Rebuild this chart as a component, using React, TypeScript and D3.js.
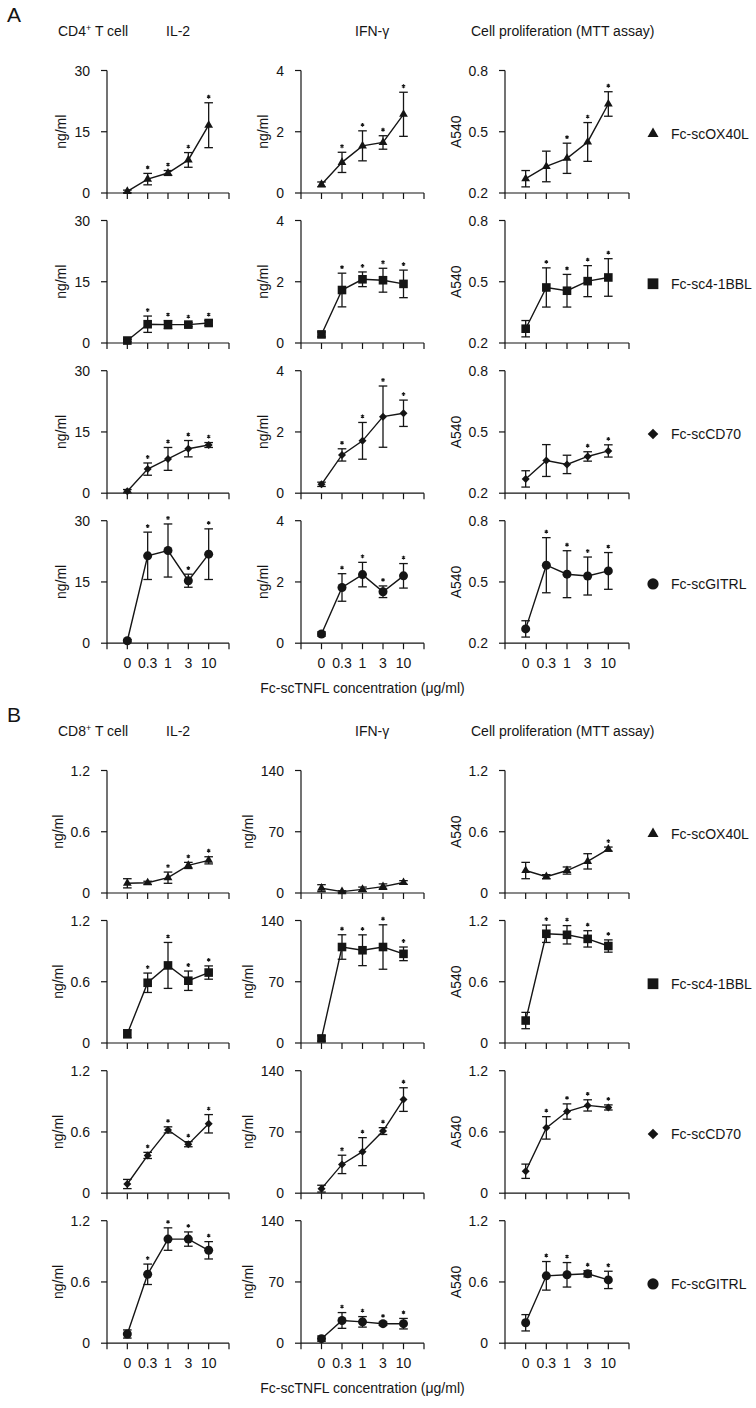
import React, { useEffect } from "react";
import * as d3 from "d3";

// ---------- data ----------
const concentrations = ["0", "0.3", "1", "3", "10"];
const ligands = ["Fc-scOX40L", "Fc-sc4-1BBL", "Fc-scCD70", "Fc-scGITRL"];
const markerShapes = ["triangle", "square", "diamond", "circle"];
const measureTitles = ["IL-2", "IFN-γ", "Cell proliferation (MTT assay)"];
const yLabels = ["ng/ml", "ng/ml", "A540"];
const xAxisTitle = "Fc-scTNFL concentration (μg/ml)";

// Panel A: CD4+ T cells
const cd4Domains = [[0, 30], [0, 4], [0.2, 0.8]];
const cd4Ticks = [[0, 15, 30], [0, 2, 4], [0.2, 0.5, 0.8]];
const cd4TickLabels = [["0", "15", "30"], ["0", "2", "4"], ["0.2", "0.5", "0.8"]];

const cd4Il2Mean = [
  [0.4, 3.4, 4.9, 8.1, 16.6],
  [0.6, 4.6, 4.5, 4.5, 4.9],
  [0.5, 5.9, 8.4, 10.9, 11.8],
  [0.6, 21.4, 22.7, 15.3, 21.8],
];
const cd4Il2Sd = [
  [0.3, 1.4, 0.6, 1.8, 5.5],
  [0.3, 2.0, 1.0, 0.5, 0.6],
  [0.4, 1.5, 2.8, 2.0, 0.6],
  [0.3, 5.8, 6.5, 1.6, 6.2],
];
const cd4Il2Star = [
  [0, 1, 1, 1, 1],
  [0, 1, 1, 1, 1],
  [0, 1, 1, 1, 1],
  [0, 1, 1, 1, 1],
];

const cd4IfnMean = [
  [0.28, 1.0, 1.54, 1.65, 2.57],
  [0.28, 1.73, 2.08, 2.05, 1.93],
  [0.29, 1.25, 1.71, 2.5, 2.61],
  [0.3, 1.82, 2.24, 1.68, 2.2],
];
const cd4IfnSd = [
  [0.08, 0.33, 0.49, 0.22, 0.72],
  [0.08, 0.55, 0.24, 0.39, 0.45],
  [0.07, 0.2, 0.6, 1.0, 0.43],
  [0.07, 0.45, 0.4, 0.19, 0.4],
];
const cd4IfnStar = [
  [0, 1, 1, 1, 1],
  [0, 1, 1, 1, 1],
  [0, 1, 1, 1, 1],
  [0, 1, 1, 1, 1],
];

const cd4MttMean = [
  [0.27, 0.33, 0.37, 0.45, 0.636],
  [0.27, 0.472, 0.456, 0.503, 0.521],
  [0.27, 0.36, 0.341, 0.38, 0.407],
  [0.27, 0.582, 0.538, 0.529, 0.554],
];
const cd4MttSd = [
  [0.04, 0.075, 0.074, 0.095, 0.06],
  [0.04, 0.096, 0.08, 0.076, 0.092],
  [0.04, 0.078, 0.045, 0.023, 0.03],
  [0.04, 0.135, 0.115, 0.093, 0.09],
];
const cd4MttStar = [
  [0, 0, 1, 1, 1],
  [0, 1, 1, 1, 1],
  [0, 0, 0, 1, 1],
  [0, 1, 1, 1, 1],
];

// Panel B: CD8+ T cells
const cd8Domains = [[0, 1.2], [0, 140], [0, 1.2]];
const cd8Ticks = [[0, 0.6, 1.2], [0, 70, 140], [0, 0.6, 1.2]];
const cd8TickLabels = [["0", "0.6", "1.2"], ["0", "70", "140"], ["0", "0.6", "1.2"]];

const cd8Il2Mean = [
  [0.095, 0.1, 0.15, 0.27, 0.32],
  [0.09, 0.59, 0.76, 0.61, 0.69],
  [0.09, 0.37, 0.62, 0.48, 0.68],
  [0.09, 0.675, 1.02, 1.02, 0.91],
];
const cd8Il2Sd = [
  [0.045, 0.015, 0.055, 0.03, 0.035],
  [0.04, 0.095, 0.225, 0.095, 0.065],
  [0.045, 0.03, 0.03, 0.025, 0.09],
  [0.04, 0.1, 0.11, 0.07, 0.085],
];
const cd8Il2Star = [
  [0, 0, 1, 1, 1],
  [0, 1, 1, 1, 1],
  [0, 1, 1, 1, 1],
  [0, 1, 1, 1, 1],
];

const cd8IfnMean = [
  [5.5, 1.6, 4.2, 7.3, 12],
  [5.2, 109.7, 106, 109.7, 101.9],
  [5.2, 32.9, 47.5, 71, 107],
  [5.2, 26, 24.4, 22.3, 22.3],
];
const cd8IfnSd = [
  [4, 1, 2.6, 3.1, 2.1],
  [3, 14, 17.6, 25.4, 7.8],
  [3.9, 10.5, 16, 3.9, 13.5],
  [3, 9, 6, 2, 6],
];
const cd8IfnStar = [
  [0, 0, 0, 0, 0],
  [0, 1, 1, 1, 1],
  [0, 1, 1, 1, 1],
  [0, 1, 1, 1, 1],
];

const cd8MttMean = [
  [0.22, 0.16, 0.22, 0.31, 0.43],
  [0.22, 1.07, 1.06, 1.02, 0.95],
  [0.215, 0.64, 0.8, 0.86, 0.84],
  [0.2, 0.66, 0.67, 0.68, 0.62],
];
const cd8MttSd = [
  [0.08, 0.02, 0.035, 0.075, 0.02],
  [0.08, 0.085, 0.09, 0.08, 0.06],
  [0.07, 0.11, 0.075, 0.055, 0.025],
  [0.08, 0.14, 0.12, 0.03, 0.085],
];
const cd8MttStar = [
  [0, 0, 0, 0, 1],
  [0, 1, 1, 1, 1],
  [0, 1, 1, 1, 1],
  [0, 1, 1, 1, 1],
];

// ---------- layout ----------
const W = 756;
const H = 1408;
const FONT = "'Liberation Sans', Arial, Helvetica, sans-serif";
const FS = 14;
const INK = "#151515";
const colX0 = [107, 301, 505];
const colX1 = [229, 424, 629];
const rowTops = [70.5, 220.5, 370.7, 520.7];
const plotH = 122.5;
const panelOffsets = [0, 700];

function markerPath(shape: string, legend: boolean): string {
  const k = legend ? 1.25 : 1;
  if (shape === "triangle") {
    const side = 8.8 * k;
    return d3.symbol(d3.symbolTriangle, (Math.sqrt(3) / 4) * side * side)() as string;
  }
  if (shape === "square") {
    const side = 8.6 * k;
    return d3.symbol(d3.symbolSquare, side * side)() as string;
  }
  if (shape === "circle") {
    const r = 4.5 * k;
    return d3.symbol(d3.symbolCircle, Math.PI * r * r)() as string;
  }
  const r = legend ? 5.3 : 4.0;
  return `M0,${-r}L${r},0L0,${r}L${-r},0Z`;
}

const starPath = d3.symbol(d3.symbolAsterisk, 10)() as string;

function labelWidth(s: string): number {
  let w = 0;
  for (const c of s) w += c === "." ? 3.9 : 7.8;
  return w;
}

type ChartProps = {
  x0: number;
  x1: number;
  top: number;
  domain: number[];
  ticks: number[];
  tickLabels: string[];
  yLabel: string;
  mean: number[];
  sd: number[];
  star: number[];
  shape: string;
  showX: boolean;
};

function SmallChart(p: ChartProps) {
  const x = d3.scaleLinear().domain([0, 6]).range([p.x0, p.x1]);
  const y = d3.scaleLinear().domain(p.domain).range([p.top + plotH, p.top]);
  const bottom = p.top + plotH;
  const line = d3
    .line<number>()
    .x((_, i) => x(i + 1))
    .y((d) => y(d));
  const maxLW = Math.max(...p.tickLabels.map(labelWidth));
  const yLabelX = p.x0 - 17 - maxLW - 13;
  const midY = p.top + plotH / 2;
  const sym = markerPath(p.shape, false);
  return (
    <g>
      {/* y axis */}
      <line x1={p.x0} x2={p.x0} y1={p.top} y2={bottom + 6} stroke={INK} strokeWidth={1.2} />
      {p.ticks.map((t, i) => (
        <g key={"yt" + i}>
          <line x1={p.x0 - 6} x2={p.x0} y1={y(t)} y2={y(t)} stroke={INK} strokeWidth={1.2} />
          <text
            x={p.x0 - 17}
            y={y(t) + 5}
            textAnchor="end"
            fontSize={FS}
            fontFamily={FONT}
            fill={INK}
          >
            {p.tickLabels[i]}
          </text>
        </g>
      ))}
      {/* x axis */}
      <line x1={p.x0} x2={p.x1} y1={bottom} y2={bottom} stroke={INK} strokeWidth={1.2} />
      {d3.range(1, 7).map((k) => (
        <line key={"xt" + k} x1={x(k)} x2={x(k)} y1={bottom} y2={bottom + 6} stroke={INK} strokeWidth={1.2} />
      ))}
      {p.showX &&
        concentrations.map((c, i) => (
          <text
            key={"xl" + i}
            x={x(i + 1)}
            y={bottom + 25}
            textAnchor="middle"
            fontSize={FS}
            fontFamily={FONT}
            fill={INK}
          >
            {c}
          </text>
        ))}
      <text
        transform={`translate(${yLabelX},${midY}) rotate(-90)`}
        textAnchor="middle"
        dominantBaseline="central"
        fontSize={FS}
        fontFamily={FONT}
        fill={INK}
      >
        {p.yLabel}
      </text>
      {/* connecting line */}
      <path d={line(p.mean) as string} fill="none" stroke={INK} strokeWidth={1.4} />
      {/* error bars */}
      {p.mean.map((m, i) => {
        const cx = x(i + 1);
        const yt = y(m + p.sd[i]);
        const yb = y(m - p.sd[i]);
        return (
          <g key={"e" + i} stroke={INK} strokeWidth={1.3}>
            <line x1={cx} x2={cx} y1={yt} y2={yb} />
            <line x1={cx - 4.3} x2={cx + 4.3} y1={yt} y2={yt} />
            <line x1={cx - 4.3} x2={cx + 4.3} y1={yb} y2={yb} />
          </g>
        );
      })}
      {/* markers */}
      {p.mean.map((m, i) => (
        <path key={"m" + i} d={sym} transform={`translate(${x(i + 1)},${y(m)})`} fill={INK} />
      ))}
      {/* significance marks */}
      {p.mean.map((m, i) =>
        p.star[i] ? (
          <path
            key={"s" + i}
            d={starPath}
            transform={`translate(${x(i + 1)},${y(m + p.sd[i]) - 6})`}
            fill="none"
            stroke={INK}
            strokeWidth={1.1}
          />
        ) : null
      )}
    </g>
  );
}

const panels = [
  {
    letter: "A",
    cell: "CD4",
    domains: cd4Domains,
    ticks: cd4Ticks,
    tickLabels: cd4TickLabels,
    means: [cd4Il2Mean, cd4IfnMean, cd4MttMean],
    sds: [cd4Il2Sd, cd4IfnSd, cd4MttSd],
    stars: [cd4Il2Star, cd4IfnStar, cd4MttStar],
  },
  {
    letter: "B",
    cell: "CD8",
    domains: cd8Domains,
    ticks: cd8Ticks,
    tickLabels: cd8TickLabels,
    means: [cd8Il2Mean, cd8IfnMean, cd8MttMean],
    sds: [cd8Il2Sd, cd8IfnSd, cd8MttSd],
    stars: [cd8Il2Star, cd8IfnStar, cd8MttStar],
  },
];

const titleX = [166, 355, 471];

export default function App() {
  useEffect(() => {
    document.body.style.margin = "0";
    document.body.style.overflow = "hidden";
  }, []);
  return (
    <svg
      width={W}
      height={H}
      viewBox={`0 0 ${W} ${H}`}
      style={{ position: "absolute", left: 0, top: 0, background: "#fff" }}
    >
      <rect x={0} y={0} width={W} height={H} fill="#fff" />
      {panels.map((pn, pi) => {
        const off = panelOffsets[pi];
        return (
          <g key={pn.letter}>
            <text x={7} y={off + 21.5} fontSize={21} fontFamily={FONT} fill={INK}>
              {pn.letter}
            </text>
            <text x={58} y={off + 36} fontSize={FS} fontFamily={FONT} fill={INK}>
              {pn.cell}
              <tspan fontSize={9} dy={-5}>+</tspan>
              <tspan dy={5}> T cell</tspan>
            </text>
            {measureTitles.map((t, ci) => (
              <text key={t} x={titleX[ci]} y={off + 36} fontSize={FS} fontFamily={FONT} fill={INK}>
                {t}
              </text>
            ))}
            {ligands.map((lig, ri) => (
              <g key={lig}>
                {[0, 1, 2].map((ci) => (
                  <SmallChart
                    key={ci}
                    x0={colX0[ci]}
                    x1={colX1[ci]}
                    top={off + rowTops[ri]}
                    domain={pn.domains[ci]}
                    ticks={pn.ticks[ci]}
                    tickLabels={pn.tickLabels[ci]}
                    yLabel={yLabels[ci]}
                    mean={pn.means[ci][ri]}
                    sd={pn.sds[ci][ri]}
                    star={pn.stars[ci][ri]}
                    shape={markerShapes[ri]}
                    showX={ri === 3}
                  />
                ))}
                <path
                  d={markerPath(markerShapes[ri], true)}
                  transform={`translate(653,${off + rowTops[ri] + plotH / 2 + 2})`}
                  fill={INK}
                />
                <text
                  x={671}
                  y={off + rowTops[ri] + plotH / 2 + 7}
                  fontSize={FS}
                  fontFamily={FONT}
                  fill={INK}
                >
                  {lig}
                </text>
              </g>
            ))}
            <text
              x={(colX0[1] + colX1[1]) / 2}
              y={off + 693}
              textAnchor="middle"
              fontSize={FS}
              fontFamily={FONT}
              fill={INK}
            >
              {xAxisTitle}
            </text>
          </g>
        );
      })}
    </svg>
  );
}
